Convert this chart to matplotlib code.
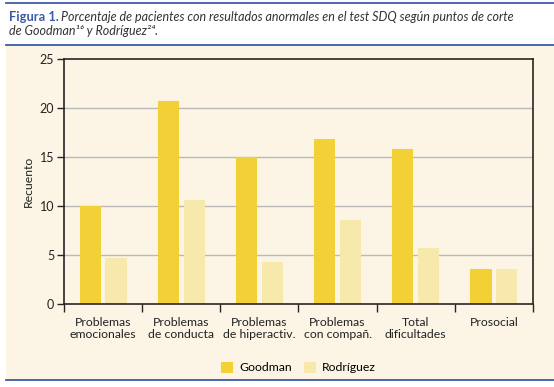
import matplotlib.pyplot as plt
import numpy as np
from matplotlib.patches import Rectangle
from matplotlib.lines import Line2D

categories = [
    "Problemas\nemocionales",
    "Problemas\nde conducta",
    "Problemas\nde hiperactiv.",
    "Problemas\ncon compañ.",
    "Total\ndificultades",
    "Prosocial",
]
goodman = [10.0, 20.7, 15.0, 16.8, 15.75, 3.55]
rodriguez = [4.65, 10.55, 4.25, 8.6, 5.7, 3.55]
yticks = [0, 5, 10, 15, 20, 25]

col_good = "#f3d136"
col_rod = "#f7e9ac"
cream = "#fcf5e6"
blue = "#3b5ba8"
dark = "#2b2322"

plt.rcParams["font.family"] = ["Lato", "DejaVu Sans"]

W, H = 554, 387
fig = plt.figure(figsize=(W / 100, H / 100), dpi=100)
fig.patch.set_facecolor("white")


def fx(px):
    return px / W


def fy(py):
    return 1 - py / H


# cream panel and blue rules
fig.patches.append(Rectangle((fx(6), fy(380)), fx(548), (380 - 45) / H,
                             transform=fig.transFigure, facecolor=cream,
                             edgecolor="none", zorder=-5))
for py in [3, 45, 380]:
    fig.lines.append(Line2D([fx(6), 1], [fy(py), fy(py)], transform=fig.transFigure,
                            color=blue, linewidth=1.3, zorder=-4))

fig.text(fx(9), fy(17), "Figura 1.", color=blue, fontweight="bold", fontsize=9.3,
         va="center", ha="left")
fig.text(fx(61), fy(17),
         "Porcentaje de pacientes con resultados anormales en el test SDQ según puntos de corte",
         color="#333333", style="italic", fontsize=9.0, va="center", ha="left")
fig.text(fx(9), fy(31), "de Goodman¹⁶ y Rodríguez²⁴.",
         color="#333333", style="italic", fontsize=9.0, va="center", ha="left")

ax = fig.add_axes([fx(64), fy(304), (533 - 64) / W, (304 - 58.5) / H])
ax.set_facecolor(cream)

x = np.arange(len(categories))
w = 0.27
ax.bar(x - 0.165, goodman, w, color=col_good, zorder=2, label="Goodman")
ax.bar(x + 0.165, rodriguez, w, color=col_rod, zorder=2, label="Rodríguez")

ax.set_xlim(-0.5, len(categories) - 0.5)
ax.set_ylim(0, 25)
ax.set_yticks(yticks)
for t in yticks[1:-1]:
    ax.axhline(t, color="#b9b9b9", linewidth=1.0, zorder=1)

ax.set_xticks(np.arange(len(categories) + 1) - 0.5)
ax.set_xticklabels([])
ax.set_xticks(x, minor=True)
ax.set_xticklabels(categories, minor=True, fontsize=8.8, color="#222222",
                   linespacing=1.2)
ax.tick_params(axis="x", which="minor", length=0, pad=9)
ax.tick_params(axis="x", which="major", length=6, width=1, color=dark)
ax.tick_params(axis="y", length=5, width=1, color=dark, labelsize=9,
               labelcolor="#222222", pad=2)
for s in ax.spines.values():
    s.set_color(dark)
    s.set_linewidth(1.2)

ax.set_ylabel("Recuento", fontsize=8.8, color="#222222", labelpad=4)

ax.legend(loc="upper center", bbox_to_anchor=(0.5, -0.19), ncol=2, frameon=False,
          fontsize=8.8, handlelength=1.0, handleheight=1.0, columnspacing=1.0,
          handletextpad=0.5)

fig.savefig("out.png", dpi=100, facecolor=fig.get_facecolor())
